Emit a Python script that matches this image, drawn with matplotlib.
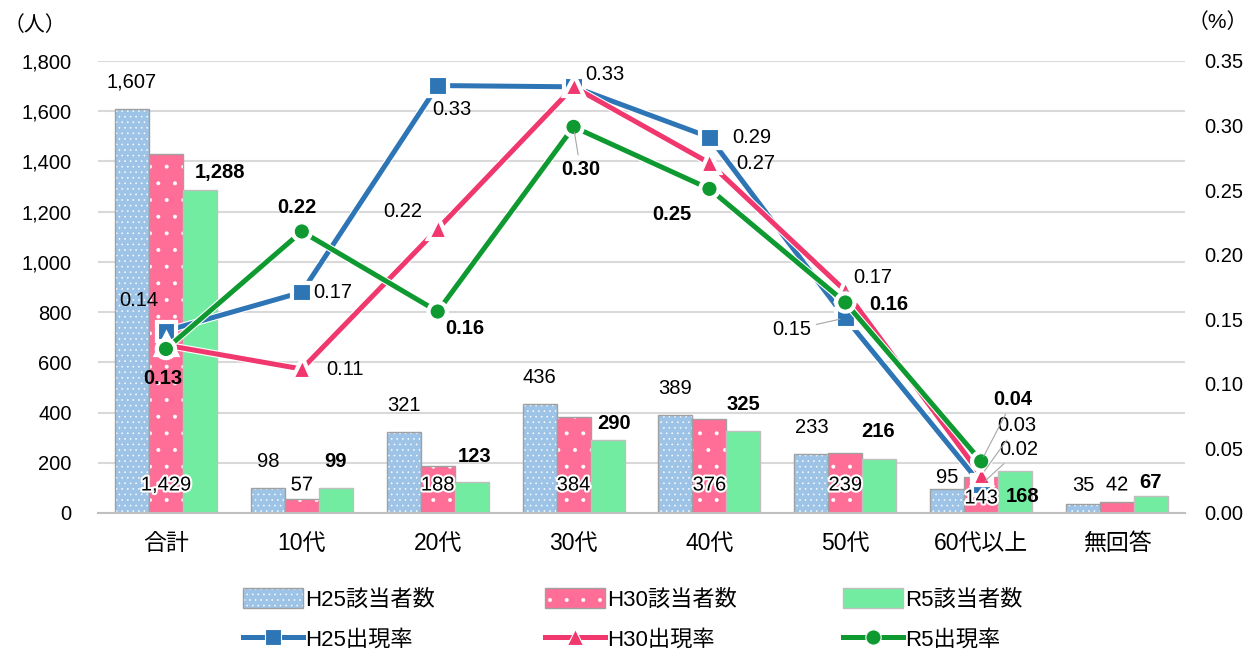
import matplotlib
matplotlib.use("Agg")
import matplotlib.pyplot as plt
import matplotlib.patheffects as pe
from matplotlib.patches import Patch
from matplotlib.lines import Line2D
import numpy as np

plt.rcParams['font.family'] = ['Liberation Sans', 'Noto Sans CJK JP']
plt.rcParams['hatch.linewidth'] = 0.4

# data
categories = ['合計', '10代', '20代', '30代', '40代', '50代', '60代以上', '無回答']
count_h25 = [1607, 98, 321, 436, 389, 233, 95, 35]
count_h30 = [1429, 57, 188, 384, 376, 239, 143, 42]
count_r5 = [1288, 99, 123, 290, 325, 216, 168, 67]
rate_h25 = [0.141, 0.171, 0.331, 0.330, 0.291, 0.151, 0.022, np.nan]
rate_h30 = [0.130, 0.1115, 0.220, 0.330, 0.271, 0.172, 0.029, np.nan]
rate_r5 = [0.127, 0.218, 0.156, 0.299, 0.251, 0.163, 0.040, np.nan]
series_names = ['H25', 'H30', 'R5']

# label placement (pixel offsets dx, dy; None = no label), leader line flags
off_rate_h25 = [(-27, 30), (31, 0), (14, -24), (31, 12), (42, 0), (-54, -12), (38, 35), None]
off_rate_h30 = [None, (43, 0), (-35, 17), None, (46, 0), (27, 13), (36, 50), None]
off_rate_r5 = [(-3, -30), (-5, 24), (27, -17), (7, -43), (-38, -26), (43, -2), (32, 62), None]
lead_h25 = [0, 0, 0, 0, 0, 1, 1, 0]
lead_h30 = [0, 0, 0, 0, 0, 1, 1, 0]
lead_r5 = [0, 0, 0, 1, 0, 0, 1, 0]
off_bar_h25 = [(0, 27), (0, 27), (0, 27), (0, 26), (0, 27), (0, 27), (0, 12), (0, 19)]
off_bar_h30 = [(0, 28), (0, 28), (0, 28), (0, 28), (0, 28), (0, 28), (0, 15), (0, 28)]
off_bar_r5 = [(20, 17), (0, 27), (3, 26), (7, 17), (0, 27), (-1, 27), (7, -26), (-1, 14)]

c_bar = ['#9DC3E6', '#FF6E96', '#72ECA0']
c_line = ['#2E75B6', '#F0386E', '#0E9A30']
hatches = ['...', '.', '']
edges = ['#A0A0A0', '#A0A0A0', '#BFBFBF']
markers = ['s', '^', 'o']

W, H = 1253, 650
fig = plt.figure(figsize=(W / 100, H / 100), dpi=100)
ax = fig.add_axes([98 / W, 1 - 513 / H, 1087 / W, 452 / H])
ax2 = ax.twinx()

x = np.arange(len(categories))
w = 0.25

counts = [count_h25, count_h30, count_r5]
for i, vals in enumerate(counts):
    xs = x + (i - 1) * w
    ax.bar(xs, vals, w, color=c_bar[i], hatch=hatches[i], edgecolor='white', linewidth=0, zorder=2)
    ax.bar(xs, vals, w, fill=False, edgecolor=edges[i], linewidth=1, zorder=2)

ax.set_xlim(-0.5, len(categories) - 0.5)
ax.set_ylim(0, 1800)
ax.set_yticks(range(0, 1801, 200))
ax.yaxis.set_major_formatter(matplotlib.ticker.StrMethodFormatter('{x:,.0f}'))
ax.set_xticks(x)
ax.set_xticklabels(categories, fontsize=16.5)
ax.tick_params(axis='y', length=0, labelsize=14.5, pad=19)
ax.tick_params(axis='x', length=0, pad=14)
ax.yaxis.grid(True, color='#D9D9D9', lw=1.5)
ax.set_axisbelow(True)
for s in ['top', 'left', 'right']:
    ax.spines[s].set_visible(False)
ax.spines['bottom'].set_color('#BFBFBF')
ax.spines['bottom'].set_linewidth(1.5)

ax2.set_ylim(0, 0.35)
ax2.set_yticks([0, 0.05, 0.10, 0.15, 0.20, 0.25, 0.30, 0.35])
ax2.yaxis.set_major_formatter(matplotlib.ticker.StrMethodFormatter('{x:.2f}'))
ax2.tick_params(axis='y', length=0, labelsize=14.5, pad=14)
for s in ax2.spines.values():
    s.set_visible(False)

rates = [rate_h25, rate_h30, rate_r5]
line_fx = [pe.Stroke(linewidth=5.2, foreground='white'), pe.Normal()]
for i, vals in enumerate(rates):
    ax2.plot(x, vals, color=c_line[i], lw=3.6, marker=markers[i], ms=12 if i == 0 else 11,
             mfc=c_line[i], mec='white', mew=0.8, path_effects=line_fx, zorder=3 + i)

# bar labels
glow = [pe.withStroke(linewidth=3, foreground='white')]
for i, v in enumerate(count_h25):
    ax.annotate(f'{v:,}', (x[i] - w, v), xytext=off_bar_h25[i], textcoords='offset pixels',
                ha='center', va='center', fontsize=14.5)
for i, v in enumerate(count_h30):
    ax2.annotate(f'{v:,}', (x[i], 0), xytext=off_bar_h30[i], textcoords='offset pixels',
                 ha='center', va='center', fontsize=14.5, path_effects=glow, zorder=9)
for i, v in enumerate(count_r5):
    ax.annotate(f'{v:,}', (x[i] + w, v), xytext=off_bar_r5[i], textcoords='offset pixels',
                ha='center', va='center', fontsize=14.5, fontweight='bold')

# rate labels
for vals, offs, leads, bold in [(rate_h25, off_rate_h25, lead_h25, False),
                                (rate_h30, off_rate_h30, lead_h30, False),
                                (rate_r5, off_rate_r5, lead_r5, True)]:
    for i, v in enumerate(vals):
        if offs[i] is None:
            continue
        arrow = dict(arrowstyle='-', color='#A6A6A6', lw=0.8, shrinkA=2, shrinkB=4) if leads[i] else None
        ax2.annotate(f'{v:.2f}', (x[i], v), xytext=offs[i], textcoords='offset pixels',
                     ha='center', va='center', fontsize=14.5,
                     fontweight='bold' if bold else 'normal', arrowprops=arrow, zorder=10)

fig.text(35 / W, 1 - 25 / H, '（人）', fontsize=15, ha='center', va='center')
fig.text(1218 / W, 1 - 22 / H, '（%）', fontsize=15, ha='center', va='center')

# legend: three columns, bar on top, line below
leg_x = [243, 545, 843]
for i, name in enumerate(series_names):
    hb = (Patch(facecolor=c_bar[i], hatch=hatches[i], edgecolor='white', linewidth=0),
          Patch(fill=False, edgecolor=edges[i], linewidth=1))
    hl = Line2D([], [], color=c_line[i], lw=3.6, marker=markers[i], ms=12 if i == 0 else 11,
                mfc=c_line[i], mec='white', mew=0.8)
    fig.legend([hb, hl], [name + '該当者数', name + '出現率'], loc='upper left',
               bbox_to_anchor=(leg_x[i] / W, 1 - 588 / H), frameon=False, fontsize=16,
               handlelength=2.7, handleheight=1.0, labelspacing=0.8, handletextpad=0.1,
               borderpad=0, borderaxespad=0)

fig.savefig('out.png', dpi=100)
